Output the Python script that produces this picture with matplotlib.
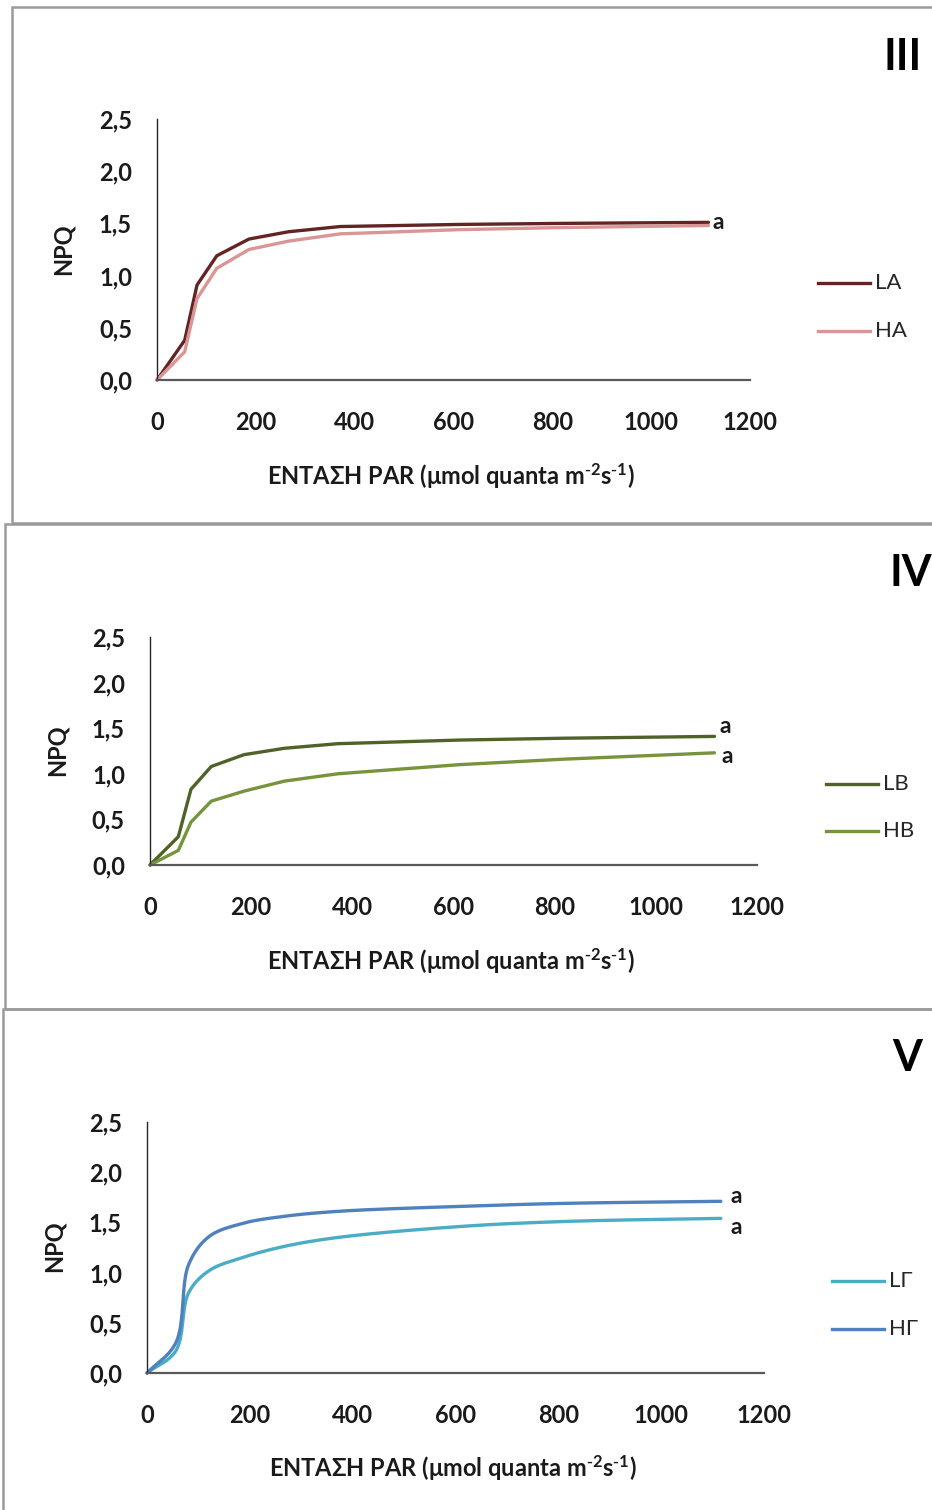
import numpy as np
import matplotlib
matplotlib.use("Agg")
import matplotlib.pyplot as plt
from matplotlib.patches import Rectangle
from matplotlib.lines import Line2D

plt.rcParams['font.family'] = ['Lato', 'Noto Sans', 'DejaVu Sans']
plt.rcParams['mathtext.default'] = 'regular'

W, H = 932, 1510

# PAR steps of the light curve (µmol quanta m-2 s-1)
par = [0, 56, 81, 121, 186, 266, 371, 611, 816, 1116]

# Panel III
npq_LA = [0.0, 0.38, 0.91, 1.19, 1.35, 1.42, 1.47, 1.49, 1.50, 1.51]
npq_HA = [0.0, 0.27, 0.78, 1.07, 1.25, 1.33, 1.40, 1.44, 1.46, 1.48]
# Panel IV
npq_LB = [0.0, 0.31, 0.83, 1.08, 1.21, 1.28, 1.33, 1.37, 1.39, 1.41]
npq_HB = [0.0, 0.16, 0.47, 0.70, 0.81, 0.92, 1.00, 1.10, 1.16, 1.23]
# Panel V
npq_LG = [0.0, 0.22, 0.80, 1.02, 1.15, 1.26, 1.35, 1.46, 1.51, 1.54]
npq_HG = [0.0, 0.30, 1.08, 1.36, 1.49, 1.56, 1.61, 1.66, 1.69, 1.71]

x_ticks = [0, 200, 400, 600, 800, 1000, 1200]
y_ticks = [0.0, 0.5, 1.0, 1.5, 2.0, 2.5]
y_ticklabels = ['0,0', '0,5', '1,0', '1,5', '2,0', '2,5']
xlabel = 'ΕΝΤΑΣΗ PAR (μmol quanta m$^{\\text{-}2}$s$^{\\text{-}1}$)'

colors = {
    'LA': '#632523', 'HA': '#d99694',
    'LB': '#4f6228', 'HB': '#77933c',
    'LΓ': '#4bacc6', 'HΓ': '#4f81bd',
}


def fx(px):
    return px / W


def fy(py):
    return 1 - py / H


def smooth(ax, xs, ys, n=40, alpha=0.5):
    """Centripetal Catmull-Rom spline through the points, built in screen space."""
    fig = ax.figure
    fig.canvas.draw()
    pts = ax.transData.transform(np.column_stack([xs, ys]))
    p = np.vstack([2 * pts[0] - pts[1], pts, 2 * pts[-1] - pts[-2]])
    out = []
    for i in range(1, len(p) - 2):
        P0, P1, P2, P3 = p[i - 1], p[i], p[i + 1], p[i + 2]
        t0 = 0.0
        t1 = t0 + np.linalg.norm(P1 - P0) ** alpha
        t2 = t1 + np.linalg.norm(P2 - P1) ** alpha
        t3 = t2 + np.linalg.norm(P3 - P2) ** alpha
        t = np.linspace(t1, t2, n)[:, None]
        A1 = (t1 - t) / (t1 - t0) * P0 + (t - t0) / (t1 - t0) * P1
        A2 = (t2 - t) / (t2 - t1) * P1 + (t - t1) / (t2 - t1) * P2
        A3 = (t3 - t) / (t3 - t2) * P2 + (t - t2) / (t3 - t2) * P3
        B1 = (t2 - t) / (t2 - t0) * A1 + (t - t0) / (t2 - t0) * A2
        B2 = (t3 - t) / (t3 - t1) * A2 + (t - t1) / (t3 - t1) * A3
        C = (t2 - t) / (t2 - t1) * B1 + (t - t1) / (t2 - t1) * B2
        out.append(C if i == 1 else C[1:])
    out = np.vstack(out)
    d = ax.transData.inverted().transform(out)
    return d[:, 0], d[:, 1]


fig = plt.figure(figsize=(W / 100, H / 100), dpi=100)

# panel frames
for (l, t, b) in [(12, 7, 523), (5, 523.5, 1009), (3, 1009, 1530)]:
    fig.add_artist(Rectangle((fx(l), fy(b)), fx(960) - fx(l), fy(t) - fy(b),
                             transform=fig.transFigure, fill=False,
                             edgecolor='#9a9a9a', linewidth=1.8))

panels = [
    dict(ax=(157, 750, 380, 119), series=[('LA', npq_LA), ('HA', npq_HA)], smooth=False,
         roman='III', roman_xy=(903, 57), npq_xy=(63, 249), xl_y=476,
         leg=(818, 283, 48), marks=[(0, 4, 0)]),
    dict(ax=(150, 757, 865, 637), series=[('LB', npq_LB), ('HB', npq_HB)], smooth=False,
         roman='IV', roman_xy=(911, 573), npq_xy=(57, 750), xl_y=961,
         leg=(826, 784, 47), marks=[(0, 5, 10), (1, 7, -4)]),
    dict(ax=(147, 764, 1373, 1122), series=[('LΓ', npq_LG), ('HΓ', npq_HG)], smooth=True,
         roman='V', roman_xy=(907, 1058), npq_xy=(54, 1246), xl_y=1468,
         leg=(832, 1281, 48), marks=[(1, 10, 5), (0, 10, -9)]),
]

for P in panels:
    x0, x1, y0, y1 = P['ax']
    ax = fig.add_axes([fx(x0), fy(y0), fx(x1) - fx(x0), fy(y1) - fy(y0)])
    ax.set_xlim(0, 1200)
    ax.set_ylim(0, 2.5)
    for s in ['top', 'right']:
        ax.spines[s].set_visible(False)
    ax.spines['left'].set_color('#262626')
    ax.spines['left'].set_linewidth(1.0)
    ax.spines['bottom'].set_color('#595959')
    ax.spines['bottom'].set_linewidth(1.6)
    ax.set_xticks(x_ticks)
    ax.set_yticks(y_ticks)
    ax.set_yticklabels(y_ticklabels)
    ax.tick_params(axis='x', length=0, pad=22, labelsize=17, labelcolor='#1a1a1a')
    ax.tick_params(axis='y', length=0, pad=18, labelsize=17, labelcolor='#1a1a1a')
    for lab in ax.get_xticklabels() + ax.get_yticklabels():
        lab.set_fontweight('bold')

    handles = []
    for name, vals in P['series']:
        if P['smooth']:
            xs, ys = smooth(ax, par, vals)
        else:
            xs, ys = par, vals
        ax.plot(xs, ys, color=colors[name], lw=2.4, solid_capstyle='round',
                solid_joinstyle='round', clip_on=False)
        handles.append(Line2D([], [], color=colors[name], lw=2.4, label=name))

    for idx, dx, dy in P['marks']:
        vals = P['series'][idx][1]
        ax.annotate('a', xy=(par[-1], vals[-1]), xytext=(dx, dy), textcoords='offset pixels',
                    ha='left', va='center', fontsize=16.5, fontweight='bold', color='#1a1a1a')

    fig.text(fx(P['npq_xy'][0]), fy(P['npq_xy'][1]), 'NPQ', rotation=90, ha='center',
             va='center', fontsize=17, fontweight='bold', color='#1a1a1a')
    fig.text(fx((x0 + x1) / 2 - 3), fy(P['xl_y']), xlabel, ha='center', va='center',
             fontsize=17, fontweight='bold', color='#1a1a1a')
    fig.text(fx(P['roman_xy'][0]), fy(P['roman_xy'][1]), P['roman'], ha='center', va='center',
             fontsize=31, fontweight='bold', color='black')

    lx, ly, gap = P['leg']
    for k, h in enumerate(handles):
        yy = ly + k * gap
        fig.add_artist(Line2D([fx(lx), fx(lx + 52)], [fy(yy), fy(yy)], transform=fig.transFigure,
                              color=h.get_color(), lw=2.4))
        fig.text(fx(lx + 57), fy(yy), h.get_label(), ha='left', va='center',
                 fontsize=16, color='#262626')

fig.savefig('out.png', dpi=100)
